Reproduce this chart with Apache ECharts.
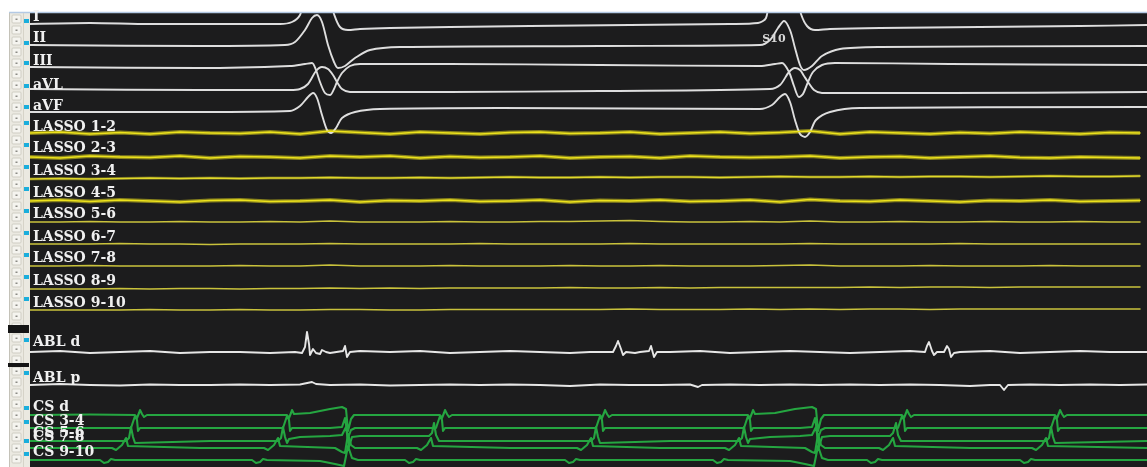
<!DOCTYPE html>
<html><head><meta charset="utf-8">
<script src="https://cdn.jsdelivr.net/npm/echarts@6/dist/echarts.min.js"></script>
<style>html,body{margin:0;padding:0;background:#fff}#c{width:1147px;height:467px}</style>
</head><body><div id="c"></div>
<script>
// ---------- DATA (time t in ms-like samples, deflection v positive = up) ----------
const channelNames = ['I','II','III','aVL','aVF','LASSO 1-2','LASSO 2-3','LASSO 3-4','LASSO 4-5','LASSO 5-6','LASSO 6-7','LASSO 7-8','LASSO 8-9','LASSO 9-10','ABL d','ABL p','CS d','CS 3-4','CS 5-6','CS 7-8','CS 9-10'];

const leadI = [[0,0],[60,1],[120,0],[200,0],[250,0],[262,2],[270,9],[277,30],[298,30],[304,10],[310,-3],[318,-6],[330,-5],[360,-4],[420,-3],[500,-2],[600,-1],[700,0],[728,1],[736,6],[742,30],[766,30],[771,10],[777,-2],[785,-6],[800,-5],[850,-4],[950,-3],[1050,-2],[1117,-1]];
const leadII = [[0,0],[170,-1],[255,0],[265,3],[275,15],[282,27],[287,30],[292,23],[298,0],[304,-17],[308,-23],[315,-21],[325,-13],[340,-5],[370,-2],[570,-1],[730,0],[740,5],[748,17],[754,24],[760,15],[765,-3],[770,-20],[774,-25],[782,-21],[792,-11],[810,-4],[850,-2],[1117,-1]];
const leadIII = [[0,0],[170,-1],[260,1],[275,3],[282,4],[286,-3],[290,-15],[295,-26],[300,-28],[304,-22],[307,-15],[312,-6],[320,1],[330,3],[420,3],[570,2],[730,1],[745,3],[752,4],[759,-5],[764,-19],[769,-30],[773,-27],[778,-15],[783,-5],[792,2],[805,4],[920,3],[1117,2]];
const leadAVL = [[0,0],[170,-1],[260,-1],[270,0],[278,5],[286,18],[292,22],[298,20],[303,14],[307,7],[312,0],[320,-3],[420,-3],[570,-2],[740,0],[750,4],[759,17],[765,21],[770,19],[774,13],[778,7],[784,-1],[792,-4],[920,-4],[1117,-3]];
const leadAVF = [[0,0],[170,0],[260,1],[270,6],[278,15],[283,19],[287,14],[292,-3],[297,-18],[301,-21],[306,-16],[312,-6],[325,0],[350,3],[470,4],[730,3],[742,7],[750,15],[755,18],[760,10],[765,-8],[770,-22],[775,-25],[780,-20],[786,-8],[800,0],[830,4],[1117,5]];

const lassoT = [0,30,60,90,120,150,180,210,240,270,300,330,360,390,420,450,480,510,540,570,600,630,660,690,720,750,780,810,840,870,900,930,960,990,1020,1050,1080,1110];
const lasso12  = [0,1,-1,0.5,-1,1,0,-0.5,1,-1,2,0.5,-1,1,0,-1,0.5,1,-0.5,0,1,-1,0,1,-0.5,0.5,2,-1,1,0,-1,0.5,-0.5,1,0,-1,0.5,0];
const lasso23  = [0,-1,1,0,-0.5,1,-1,0.5,0,-1,1,0,1,-1,0.5,-0.5,0,1,-1,0,0.5,-1,1,0,-0.5,0,1,-1,0,0.5,-1,0,1,-0.5,-1,0,-0.5,-1];
const lasso34  = [0,0.5,0,0.5,1,0.5,1,0.5,1,1,1.5,1,1,1.5,1,1.5,2,1.5,1.5,2,1.5,2,2,1.5,2,2.5,2,2,2.5,2,2.5,2.5,2,2.5,3,2.5,2.5,3];
const lasso45  = [0,1,-0.5,1,0,-1,0.5,1,-0.5,0,1,-1,0.5,0,1,-0.5,0,1,-1,0.5,0,1,-0.5,0,1,-1,1.5,0,-0.5,1,0,-1,0.5,0,1,-0.5,0,0.5];
const lasso56  = [0,0,0.5,0,0,0.5,0,0,0.5,0,1,0,0,0,0.5,0,0,0.5,0.5,1,1.5,0.5,0,0,0.5,0,1,0,0,0.5,0,0,0.5,0,0,0.5,0,0];
const lasso67  = [0,0,0,0.5,0,0,-0.5,0,0,0,0.5,0,0,0,0,0.5,0,0,0,0,0.5,0,0,0,0,0,0.5,0,0,0,0,0.5,0,0,0,0,0,0];
const lasso78  = [0,0,0.5,0,0,0,0,0.5,0,0,1,0,0,0,0.5,0,0,0,0.5,0,0,0.5,0,0,0,0.5,1,0,0,0,0.5,0,0,0,0.5,0,0,0];
const lasso89  = [0,0,0,0.5,0,0.5,0.5,0,0.5,0.5,1,0.5,1,0.5,1,1,1,1,1.5,1,1,1.5,1,1.5,1.5,1.5,1.5,1.5,2,1.5,2,2,1.5,2,2,2,2,2];
const lasso910 = [0,0,0,0,0.5,0,0,0.5,0,0,0.5,0.5,0,0,0.5,0.5,0.5,0.5,0.5,0.5,1,0.5,0.5,0.5,1,0.5,1,0.5,1,1,0.5,1,1,1,1,1,1,1];

const ablD = [[0,0],[30,1],[60,-1],[90,0],[120,1],[150,-1],[180,0],[210,0],[240,-1],[265,0],[272,-1],[275,5],[277,20],[279,8],[280,-3],[283,3],[286,-1],[290,-2],[292,2],[296,0],[300,-1],[313,1],[315,6],[317,-5],[320,0],[330,1],[360,0],[390,1],[420,-1],[450,0],[480,1],[510,0],[540,-1],[560,0],[583,0],[586,6],[588,11],[591,3],[593,-3],[596,0],[605,-1],[610,0],[619,1],[621,6],[624,-5],[627,0],[640,0],[670,1],[700,-1],[730,0],[760,1],[790,0],[820,-1],[850,0],[880,1],[895,0],[897,6],[899,10],[902,1],[904,-3],[907,0],[914,0],[917,6],[919,3],[921,-5],[924,-1],[930,0],[960,1],[990,-1],[1020,0],[1050,1],[1080,0],[1117,0]];
const ablP = [[0,0],[30,1],[60,0],[90,-0.5],[120,0.5],[150,0],[180,0],[210,0.5],[240,0],[270,0.5],[282,3],[286,1],[300,0],[330,0.5],[360,-0.5],[390,0],[420,0.5],[450,0],[480,0.5],[510,0],[540,-1],[570,0.5],[600,0],[630,0],[660,0.5],[668,-2],[672,0],[700,0.5],[730,0],[760,0.5],[790,0],[820,0.5],[850,0],[880,0.5],[910,0],[940,-1],[960,0],[970,0],[974,-5],[978,0],[1000,0.5],[1030,0],[1060,0.5],[1090,0],[1117,0.5]];

const csD = [[0,0],[60,0.5],[105,0],[107,-3],[109,2],[110,5],[112,1],[114,-2],[117,0],[200,0],[257,0],[259,-3],[261,2],[262,5],[264,1],[266,0],[280,2],[300,6],[312,8],[316,6],[318,-16],[321,-4],[324,0],[360,0],[410,0],[412,-3],[414,2],[415,5],[417,1],[419,-2],[422,0],[500,0],[570,0],[572,-3],[574,2],[575,5],[577,1],[579,-2],[582,0],[650,0],[718,0],[720,-3],[722,2],[723,5],[725,1],[727,0],[745,2],[765,6],[782,8],[786,6],[788,-16],[791,-4],[794,0],[830,0],[872,0],[874,-3],[876,2],[877,5],[879,1],[881,-2],[884,0],[960,0],[1025,0],[1027,-3],[1029,2],[1030,5],[1032,1],[1034,-2],[1037,0],[1117,0]];
const cs34 = [[0,0],[50,0],[101,0],[103,2],[105,12],[107,8],[108,-3],[110,0],[180,0],[253,0],[255,2],[257,12],[259,8],[260,-3],[262,0],[300,0],[312,1],[315,10],[318,-10],[321,-2],[325,0],[406,0],[408,2],[410,12],[412,8],[413,-3],[415,0],[490,0],[566,0],[568,2],[570,12],[572,8],[573,-3],[575,0],[650,0],[714,0],[716,2],[718,12],[720,8],[721,-3],[723,0],[770,0],[782,1],[785,10],[788,-10],[791,-2],[795,0],[868,0],[870,2],[872,12],[874,8],[875,-3],[877,0],[950,0],[1021,0],[1023,2],[1025,12],[1027,8],[1028,-3],[1030,0],[1117,0]];
const cs56 = [[0,0],[50,0],[96,0],[99,3],[101,14],[103,4],[105,-2],[107,0],[180,0],[248,0],[251,3],[253,14],[255,4],[257,-2],[259,2],[270,4],[300,5],[312,6],[316,14],[319,-6],[322,4],[330,5],[399,5],[402,8],[404,18],[406,6],[409,0],[480,0],[561,0],[564,3],[566,14],[568,4],[570,-2],[572,0],[640,0],[709,0],[712,3],[714,14],[716,4],[718,-2],[720,2],[740,4],[770,5],[782,6],[786,14],[789,-6],[792,4],[800,5],[860,5],[863,8],[866,18],[868,6],[871,0],[940,0],[1016,0],[1019,3],[1021,14],[1023,4],[1025,-2],[1027,0],[1117,0]];
const cs78 = [[0,0],[40,0],[82,0],[86,-2],[92,3],[96,10],[98,2],[100,0],[170,0],[234,0],[238,-2],[244,3],[248,10],[250,2],[252,0],[305,0],[312,-4],[315,-5],[318,14],[321,3],[325,0],[387,0],[391,-2],[397,3],[401,10],[403,2],[405,0],[480,0],[547,0],[551,-2],[557,3],[561,10],[563,2],[565,0],[630,0],[695,0],[699,-2],[705,3],[709,10],[711,2],[713,0],[775,0],[782,-4],[785,-5],[788,14],[791,3],[795,0],[849,0],[853,-2],[859,3],[863,10],[865,2],[867,0],[940,0],[1002,0],[1006,-2],[1012,3],[1016,10],[1018,2],[1020,0],[1117,0]];
const cs910 = [[0,0],[40,0],[70,0],[74,-3],[78,-2],[81,1],[85,0],[160,0],[222,0],[226,-3],[230,-2],[233,1],[237,0],[290,-1],[305,-4],[314,-6],[318,14],[322,2],[328,0],[375,0],[379,-3],[383,-2],[386,1],[390,0],[460,0],[535,0],[539,-3],[543,-2],[546,1],[550,0],[620,0],[683,0],[687,-3],[691,-2],[694,1],[698,0],[760,-1],[775,-4],[784,-6],[788,14],[792,2],[798,0],[837,0],[841,-3],[845,-2],[848,1],[852,0],[920,0],[990,0],[994,-3],[998,-2],[1001,1],[1005,0],[1117,0]];

const annotationText = 'S10';

// ---------- LAYOUT / STYLE ----------
const W = 1147, H = 467, PLOT_LEFT = 30, PLOT_TOP = 13;
const baseRows   = [24,45,67,89,112,133,157,179,201,222,244,266,289,310,352,385,415,428,441,448,460];
const labelRows  = [17,38,61,85,106,127,148,171,193,214,237,258,281,303,342,378,407,421,433,437,452];
const markerRows = [21,43,63,86,107,123,145,167,189,211,233,255,277,299,340,373,408,422,441,null,454];
const kinds = ['ecg','ecg','ecg','ecg','ecg','lassoN','lassoN','lassoM','lassoN','lasso','lasso','lasso','lasso','lasso','abl','abl','cs','cs','cs','cs','cs'];
const styles = {
  ecg:    {color:'#dedede', width:1.9, smooth:0.3},
  lassoN: {color:'#ece21c', width:1.6, glow:'rgba(225,215,30,0.55)', glowWidth:4},
  lassoM: {color:'#e0d82a', width:1.5, glow:'rgba(210,200,40,0.4)', glowWidth:3},
  lasso:  {color:'#c9c23c', width:1.5},
  abl:    {color:'#e6e6e6', width:1.9},
  cs:     {color:'#25a641', width:2.1}
};

const lassoVals = [lasso12,lasso23,lasso34,lasso45,lasso56,lasso67,lasso78,lasso89,lasso910];
const channelData = [leadI,leadII,leadIII,leadAVL,leadAVF]
  .concat(lassoVals.map(vals => lassoT.map((t,i)=>[t, vals[i]])))
  .concat([ablD, ablP, csD, cs34, cs56, cs78, cs910]);

const series = [];
channelData.forEach((pts, ci) => {
  const st = styles[kinds[ci]];
  const off = -baseRows[ci];
  const data = pts.map(p => [p[0], off + p[1]]);
  if (st.glow) {
    series.push({type:'line', data, showSymbol:false, silent:true, animation:false,
      lineStyle:{color:st.glow, width:st.glowWidth}, z:2});
  }
  series.push({type:'line', name:channelNames[ci], data, showSymbol:false, silent:true, animation:false,
    smooth: st.smooth || false,
    lineStyle:{color:st.color, width:st.width, join:'round', cap:'round'}, z:3});
});

const chart = echarts.init(document.getElementById('c'), null, {renderer:'canvas'});
chart.setOption({
  backgroundColor:'#ffffff',
  animation:false,
  grid:{left:PLOT_LEFT, right:0, top:PLOT_TOP, bottom:0, show:true, backgroundColor:'#1c1c1d', borderWidth:0},
  xAxis:{type:'value', min:0, max:1117, show:false},
  yAxis:{type:'value', min:-H, max:-PLOT_TOP, show:false},
  series
});

// graphic decorations: panel, markers, labels
const g = [];
g.push({type:'rect', shape:{x:0,y:0,width:W,height:PLOT_TOP}, style:{fill:'#ffffff'}, z:50});
g.push({type:'line', shape:{x1:9,y1:12.5,x2:W,y2:12.5}, style:{stroke:'#b3c9e4', lineWidth:1.5}, z:51});
g.push({type:'rect', shape:{x:9,y:13,width:21,height:H-13}, style:{fill:'#ebe9e1'}, z:50});
g.push({type:'line', shape:{x1:9.5,y1:13,x2:9.5,y2:H}, style:{stroke:'#c4c2b8', lineWidth:1}, z:51});
g.push({type:'line', shape:{x1:23.5,y1:13,x2:23.5,y2:H}, style:{stroke:'#d6d3c8', lineWidth:1}, z:51});
for (let y = 15; y < H - 4; y += 11) {
  g.push({type:'rect', shape:{x:12,y:y,width:9,height:8, r:1}, style:{fill:'#f5f4ef', stroke:'#cfcdc3', lineWidth:1}, z:52});
  g.push({type:'rect', shape:{x:15.5,y:y+3.5,width:2,height:1.5}, style:{fill:'#8a8a84'}, z:53});
}
g.push({type:'rect', shape:{x:8,y:325,width:21,height:8}, style:{fill:'#151515'}, z:54});
g.push({type:'rect', shape:{x:8,y:363,width:21,height:4}, style:{fill:'#151515'}, z:54});
markerRows.forEach(r => {
  if (r === null) return;
  g.push({type:'rect', shape:{x:24,y:r-2,width:5,height:4}, style:{fill:'#1aaedc'}, z:55});
});
channelNames.forEach((name, ci) => {
  const p = chart.convertToPixel({gridIndex:0}, [0, -labelRows[ci]]);
  g.push({type:'text', x:p[0]+3, y:p[1], z:60,
    style:{text:name, fill:'#f0f0f0', font:'bold 14px "DejaVu Serif", serif', textVerticalAlign:'middle', textAlign:'left'}});
});
const sp = chart.convertToPixel({gridIndex:0}, [744, -39]);
g.push({type:'text', x:sp[0], y:sp[1], z:60,
  style:{text:annotationText, fill:'#d8d8d8', font:'bold 11px "DejaVu Serif", serif', textVerticalAlign:'middle', textAlign:'center'}});
chart.setOption({graphic:{elements:g}});
</script>
</body></html>
